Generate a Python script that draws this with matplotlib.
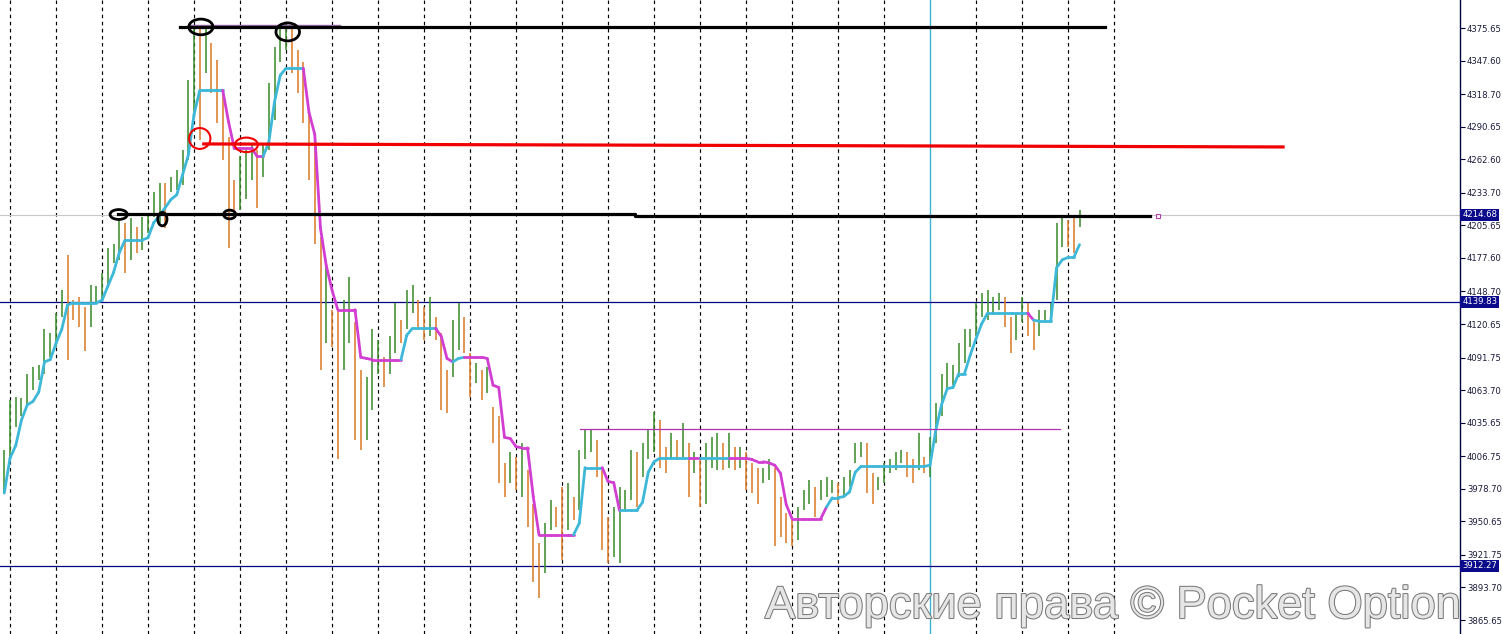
import matplotlib
matplotlib.use("Agg")
import matplotlib.pyplot as plt
import matplotlib.transforms as mtransforms
import matplotlib.patheffects as pe
from matplotlib.patches import Ellipse
from matplotlib.collections import LineCollection

# ---------------- data ----------------
highs = [4012, 4055, 4058, 4057, 4078, 4084, 4085, 4116, 4113, 4130,
         4150, 4180, 4141, 4144, 4135, 4154, 4153, 4165, 4186, 4190,
         4210, 4208, 4212, 4204, 4213, 4215, 4234, 4242, 4242, 4247,
         4253, 4271, 4331, 4378, 4377, 4377, 4363, 4348, 4320, 4282,
         4245, 4265, 4271, 4277, 4271, 4277, 4328, 4359, 4377, 4380,
         4377, 4357, 4346, 4302, 4273, 4196, 4173, 4133, 4133, 4141,
         4161, 4122, 4081, 4075, 4116, 4107, 4092, 4110, 4139, 4124,
         4150, 4154, 4141, 4135, 4144, 4127, 4113, 4081, 4124, 4139,
         4127, 4096, 4087, 4081, 4084, 4049, 4041, 4001, 4010, 4006,
         4018, 3995, 3966, 3932, 3949, 3969, 3963, 3980, 3984, 3972,
         4012, 4029, 4029, 4021, 3995, 3954, 3963, 3980, 3978, 4012,
         4010, 4018, 4029, 4045, 4038, 4015, 4027, 4021, 4035, 4018,
         4010, 4004, 4018, 4023, 4027, 4018, 4027, 4015, 4015, 4010,
         4001, 3997, 3997, 4004, 3997, 3972, 3958, 3952, 3963, 3978,
         3986, 3980, 3986, 3989, 3986, 3984, 3989, 3995, 4018, 4019,
         4018, 3992, 3989, 4001, 4004, 4010, 4012, 4010, 4004, 4027,
         4006, 4023, 4053, 4078, 4087, 4085, 4104, 4116, 4116, 4139,
         4147, 4150, 4144, 4147, 4144, 4127, 4130, 4144, 4139, 4122,
         4133, 4133, 4139, 4208, 4213, 4210, 4213, 4219]

lows = [3975, 4004, 4032, 4041, 4049, 4064, 4072, 4078, 4092, 4101,
        4127, 4090, 4124, 4118, 4097, 4118, 4139, 4141, 4153, 4173,
        4176, 4165, 4176, 4182, 4184, 4199, 4213, 4208, 4203, 4234,
        4236, 4240, 4262, 4299, 4279, 4337, 4320, 4294, 4262, 4186,
        4219, 4219, 4228, 4245, 4221, 4247, 4271, 4296, 4346, 4357,
        4337, 4320, 4294, 4245, 4190, 4081, 4104, 4101, 4004, 4081,
        4104, 4021, 4012, 4021, 4047, 4078, 4066, 4078, 4096, 4104,
        4116, 4130, 4118, 4107, 4110, 4107, 4047, 4044, 4075, 4098,
        4096, 4058, 4070, 4055, 4061, 4018, 3984, 3972, 3984, 3978,
        3972, 3946, 3898, 3885, 3906, 3943, 3946, 3917, 3943, 3952,
        3960, 4004, 4010, 3989, 3926, 3915, 3920, 3915, 3960, 3969,
        3963, 3989, 4004, 4010, 3997, 3992, 4004, 4004, 4006, 3972,
        3992, 3963, 3966, 3997, 3995, 3995, 3997, 3995, 3997, 3978,
        3975, 3966, 3984, 3986, 3929, 3937, 3932, 3929, 3935, 3960,
        3966, 3954, 3969, 3972, 3975, 3966, 3972, 3980, 4001, 4006,
        3975, 3966, 3978, 3984, 3992, 3995, 4001, 3989, 3984, 3995,
        3992, 3989, 4018, 4041, 4064, 4068, 4075, 4087, 4101, 4110,
        4127, 4124, 4130, 4133, 4118, 4096, 4107, 4122, 4110, 4098,
        4110, 4124, 4127, 4141, 4187, 4187, 4182, 4204]

trail_values = [3975, 4005, 4016, 4038, 4051, 4054, 4062, 4088, 4090, 4104,
                4116, 4137, 4139, 4139, 4139, 4139, 4139, 4141, 4153, 4165,
                4182, 4193, 4193, 4193, 4193, 4195, 4208, 4214, 4221, 4228,
                4232, 4249, 4266, 4301, 4322, 4322, 4322, 4322, 4322, 4295,
                4272, 4272, 4272, 4272, 4265, 4265, 4277, 4312, 4335, 4341,
                4341, 4341, 4341, 4303, 4284, 4203, 4171, 4150, 4133, 4133,
                4133, 4133, 4092, 4091, 4090, 4090, 4090, 4090, 4090, 4090,
                4111, 4117, 4117, 4117, 4117, 4117, 4110, 4091, 4088, 4091,
                4092, 4092, 4092, 4092, 4091, 4068, 4066, 4023, 4022, 4015,
                4014, 4014, 3972, 3939, 3939, 3939, 3939, 3939, 3939, 3939,
                3949, 3997, 3997, 3997, 3997, 3985, 3984, 3960, 3960, 3960,
                3960, 3967, 3993, 4002, 4005, 4005, 4005, 4005, 4005, 4005,
                4005, 4005, 4005, 4005, 4005, 4005, 4005, 4005, 4005, 4005,
                4004, 4002, 4002, 4001, 3999, 3992, 3965, 3953, 3953, 3953,
                3953, 3953, 3953, 3963, 3971, 3971, 3972, 3976, 3993, 3998,
                3998, 3998, 3998, 3998, 3998, 3998, 3998, 3998, 3998, 3998,
                3998, 3999, 4029, 4051, 4065, 4066, 4078, 4078, 4094, 4108,
                4121, 4130, 4130, 4130, 4130, 4130, 4130, 4130, 4130, 4124,
                4123, 4123, 4123, 4169, 4176, 4178, 4178, 4189]

# u = up (cyan, below price), d = down (magenta, above price)
trail_dir = ("uuuuuuuuuu" "uuuuuuuuuu" "uuuuuuuuuu" "uuuuuuuuud"
             "dddddduuuu" "uuuddddddd" "dddddddddd" "uuuuuudddu"
             "uddddddddd" "dddddddddd" "uuuuuddduu" "uuuuuuuuuu"
             "dduuuuuddd" "dddddddddd" "dddduuuuuu" "uuuuuuuuuu"
             "uuuuuuuuuu" "uuuuuuuuud" "uuuuuuuu")

tick_values = [4375.65, 4347.60, 4318.70, 4290.65, 4262.60, 4233.70, 4205.65,
               4177.60, 4148.70, 4120.65, 4091.75, 4063.70, 4035.65, 4006.75,
               3978.70, 3950.65, 3921.75, 3893.70, 3865.65]
marked_prices = [4214.68, 4139.83, 3912.27]
watermark = "Авторские права © Pocket Option"

# drawn annotation levels (price) and their bar-index spans
top_level = 4376.6
top_span = (30.6, 191.4)
peak_level = 4378.3
peak_span = (32.3, 58.4)
red_level = (4275.8, 4273.2)
red_span = (34.7, 222.4)
mid_level = (4215.5, 4213.7)
mid_span = (19.8, 109.7, 199.3)
box_level = 4030.3
box_span = (100.1, 183.6)
cursor_bar = 161

# ---------------- figure ----------------
W, H = 1503, 634
fig = plt.figure(figsize=(W / 100, H / 100), dpi=100)
ax = fig.add_axes([0, 0, 1460 / W, 1])
ax.set_facecolor("white")

n = len(highs)
idx = list(range(n))
mids = [(h + l) / 2 for h, l in zip(highs, lows)]
green, orange = "#3f8f2f", "#dc7d2c"
colors = [green] + [green if mids[i] >= mids[i - 1] else orange for i in range(1, n)]

# dashed period separators
for k in range(25):
    if 1 + 8 * k == cursor_bar:
        continue
    ax.axvline(1 + 8 * k, color="black", lw=0.85, ls=(0, (3, 3)), zorder=1)
ax.axvline(cursor_bar, color="#3cb4d0", lw=1.0, zorder=1)

# horizontal price lines
ax.axhline(marked_prices[0], color="#c8c8c8", lw=0.8, zorder=1)
ax.axhline(marked_prices[1], color="#000080", lw=0.9, zorder=1)
ax.axhline(marked_prices[2], color="#000080", lw=0.9, zorder=1)

# OHLC bars
ax.vlines(idx, lows, highs, colors=colors, lw=1.15, zorder=2)

# trailing line
segs, segc = [], []
for i in range(1, n):
    segs.append([(i - 1, trail_values[i - 1]), (i, trail_values[i])])
    segc.append("#3db8d8" if trail_dir[i] == "u" else "#d23ed2")
ax.add_collection(LineCollection(segs, colors=segc, linewidths=2.0,
                                 capstyle="round", joinstyle="round", zorder=3))

# hand-drawn annotations
ax.plot(peak_span, [peak_level] * 2, color="#9a6aa8", lw=1.0, zorder=4)
ax.plot(top_span, [top_level] * 2, color="black", lw=2.3, zorder=4)
ax.plot(red_span, red_level, color="#f00000", lw=2.3, zorder=4)
ax.plot([mid_span[0], mid_span[1], mid_span[1], mid_span[2]],
        [mid_level[0], mid_level[0], mid_level[1], mid_level[1]],
        color="black", lw=2.3, zorder=4)
ax.plot([mid_span[2] + 1.3], [mid_level[1]], marker="s", ms=3.5, mfc="white",
        mec="#b040b0", mew=0.8, zorder=4)
ax.plot(box_span, [box_level] * 2, color="#b030b0", lw=0.9, zorder=4)

ellipses = [
    # (bar centre, price centre, width in bars, height in price, colour)
    (34.2, 4376.6, 4.2, 13.5, "black"),
    (49.3, 4372.3, 4.1, 15.5, "black"),
    (19.9, 4215.0, 3.0, 8.5, "black"),
    (27.5, 4211.0, 1.6, 11.5, "black"),
    (39.2, 4215.0, 2.1, 7.5, "black"),
    (34.0, 4280.5, 3.7, 18.0, "#f00000"),
    (42.1, 4275.0, 4.0, 12.5, "#f00000"),
]
for cx, cy, w, h, c in ellipses:
    ax.add_patch(Ellipse((cx, cy), w, h, fill=False, ec=c,
                         lw=2.0 if c == "black" else 1.5, zorder=5))

# axes limits: pixel mapping
ax.set_xlim(-0.739, 253.17)
ax.set_ylim(3853.6, 4399.8)

# right price scale
for s in ("top", "left", "bottom"):
    ax.spines[s].set_visible(False)
ax.spines["right"].set_color("#000040")
ax.spines["right"].set_linewidth(1.0)
ax.set_xticks([])
ax.yaxis.tick_right()
ax.set_yticks(tick_values)
ax.set_yticklabels([f"{v:.2f}" for v in tick_values], fontsize=6.1,
                   color="#1a1a3a", family="DejaVu Sans")
ax.tick_params(axis="y", direction="out", length=3.5, width=0.8,
               color="#000040", pad=1.5)

trans = mtransforms.blended_transform_factory(ax.transAxes, ax.transData)
for p in marked_prices:
    ax.text(1.0015, p, f"{p:.2f}", transform=trans, ha="left", va="center",
            fontsize=6.1, color="white", family="DejaVu Sans", zorder=6,
            clip_on=False,
            bbox=dict(boxstyle="square,pad=0.2", fc="#0a0a8a", ec="none"))

# watermark
fig.text(765 / W, 16 / H, watermark, fontsize=32.6, family="Liberation Sans",
         color="#e6e6e6", ha="left", va="baseline", zorder=10,
         path_effects=[pe.withStroke(linewidth=1.5, foreground="#7a7a7a")])

fig.savefig("out.png", dpi=100, facecolor="white")
